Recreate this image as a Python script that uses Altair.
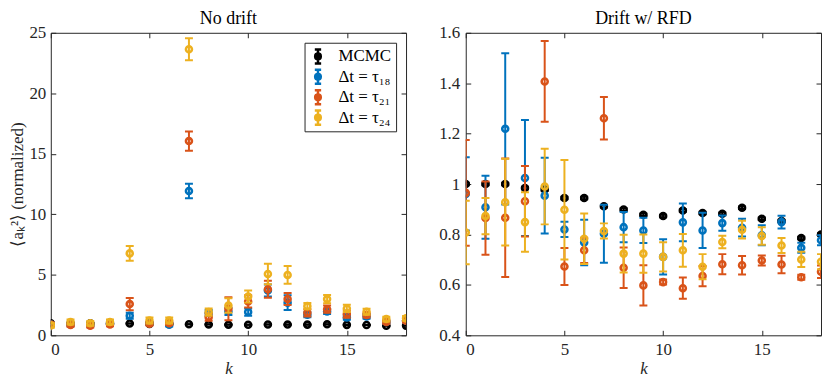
import altair as alt
import pandas as pd

# ---------------- data ----------------
k_values = list(range(19))
series_names = ["MCMC", "Δt = τ₁₈", "Δt = τ₂₁", "Δt = τ₂₄"]
series_colors = ["#000000", "#0072BD", "#D95319", "#EDB120"]

# MCMC reference (same in both panels)
mcmc_val = [1.0, 1.0, 1.0, 0.984, 0.978, 0.945, 0.945, 0.912, 0.899, 0.878,
            0.873, 0.895, 0.885, 0.882, 0.906, 0.862, 0.853, 0.786, 0.80]
mcmc_err = [0.005, 0.005, 0.005, 0.005, 0.005, 0.005, 0.005, 0.005, 0.005, 0.005,
            0.005, 0.005, 0.005, 0.005, 0.005, 0.005, 0.005, 0.005, 0.005]

# No drift panel
nd_t18 = [0.9, 0.9, 0.85, 0.95, 1.62, 1.0, 0.88, 11.92, 1.84, 1.97,
          1.92, 3.7, 2.7, 1.7, 1.97, 1.48, 1.56, 1.1, 1.2]
nd_t18_err = [0.1, 0.1, 0.1, 0.1, 0.25, 0.1, 0.15, 0.6, 0.25, 0.3,
              0.3, 0.5, 0.6, 0.2, 0.2, 0.2, 0.2, 0.1, 0.15]
nd_t21 = [0.9, 0.85, 0.8, 0.9, 2.58, 0.95, 1.0, 16.05, 1.5, 2.2,
          2.8, 3.8, 3.0, 1.86, 2.16, 1.75, 1.67, 1.1, 1.2]
nd_t21_err = [0.15, 0.15, 0.15, 0.15, 0.5, 0.15, 0.15, 0.8, 0.3, 0.95,
              0.5, 0.7, 0.5, 0.3, 0.3, 0.3, 0.2, 0.15, 0.15]
nd_t24 = [0.82, 1.1, 0.99, 1.1, 6.77, 1.23, 1.23, 23.64, 1.92, 2.47,
          3.2, 5.07, 4.99, 2.41, 2.99, 2.22, 1.95, 1.34, 1.4]
nd_t24_err = [0.2, 0.2, 0.2, 0.2, 0.6, 0.25, 0.25, 0.9, 0.3, 0.6,
              0.5, 0.85, 0.73, 0.25, 0.35, 0.3, 0.25, 0.2, 0.2]

# Drift w/ RFD panel
rfd_t18 = [0.961, 0.908, 1.219, 1.024, 0.954, 0.82, 0.768, 0.803, 0.829, 0.816,
           0.711, 0.848, 0.816, 0.845, 0.827, 0.797, 0.849, 0.747, 0.777]
rfd_t18_err = [0.145, 0.125, 0.30, 0.23, 0.15, 0.03, 0.09, 0.115, 0.06, 0.05,
               0.07, 0.075, 0.07, 0.03, 0.035, 0.04, 0.025, 0.02, 0.02]
rfd_t21 = [0.965, 0.865, 0.866, 0.932, 1.407, 0.673, 0.737, 1.261, 0.668, 0.598,
           0.611, 0.587, 0.635, 0.682, 0.678, 0.697, 0.681, 0.630, 0.652]
rfd_t21_err = [0.21, 0.145, 0.235, 0.14, 0.16, 0.073, 0.05, 0.084, 0.08, 0.08,
               0.01, 0.042, 0.04, 0.04, 0.037, 0.02, 0.035, 0.01, 0.025]
rfd_t24 = [0.808, 0.873, 0.928, 0.849, 0.990, 0.898, 0.783, 0.814, 0.724, 0.724,
           0.711, 0.737, 0.672, 0.770, 0.819, 0.794, 0.756, 0.701, 0.692]
rfd_t24_err = [0.126, 0.072, 0.172, 0.118, 0.15, 0.197, 0.1, 0.03, 0.075, 0.076,
               0.058, 0.065, 0.05, 0.025, 0.035, 0.035, 0.03, 0.03, 0.03]

x_ticks = [0, 5, 10, 15]
nd_y_ticks = [0, 5, 10, 15, 20, 25]
rfd_y_ticks = [0.4, 0.6, 0.8, 1.0, 1.2, 1.4, 1.6]

FONT = "Liberation Serif"
AXIS_COLOR = "#262626"
PANEL_W = 357
PANEL_H = 304


def make_df(vals_errs):
    rows = []
    for name, (vals, errs) in zip(series_names, vals_errs):
        for kk, v, e in zip(k_values, vals, errs):
            rows.append({"k": kk, "series": name, "val": v, "lo": v - e, "hi": v + e})
    return pd.DataFrame(rows)


nd_df = make_df([(mcmc_val, mcmc_err), (nd_t18, nd_t18_err),
                 (nd_t21, nd_t21_err), (nd_t24, nd_t24_err)])
rfd_df = make_df([(mcmc_val, mcmc_err), (rfd_t18, rfd_t18_err),
                  (rfd_t21, rfd_t21_err), (rfd_t24, rfd_t24_err)])

legend_symbol = ("M0,-1L0,1M-0.45,-1L0.45,-1M-0.45,1L0.45,1"
                 "M0.4,0A0.4,0.4,0,1,1,-0.4,0A0.4,0.4,0,1,1,0.4,0")


def tick_axis(values, orient):
    return alt.Axis(values=values, labels=False, domain=False, grid=False,
                    tickSize=5, offset=-5, title=None, orient=orient,
                    minExtent=0, maxExtent=0)


def panel(df, title, ydomain, yticks, ytitle, yfmt, with_legend):
    xs = alt.Scale(domain=[0, 18], nice=False, zero=False)
    ys = alt.Scale(domain=ydomain, nice=False, zero=False)
    cscale = alt.Scale(domain=series_names, range=series_colors)

    main_x = alt.Axis(values=x_ticks, ticks=False, domain=False, grid=False,
                      labelPadding=6, title="k", titleFontStyle="italic",
                      titlePadding=3, minExtent=0)
    main_y = alt.Axis(values=yticks, ticks=False, domain=False, grid=False,
                      labelPadding=5 if ytitle else 6, format=yfmt,
                      title=ytitle, titlePadding=2, minExtent=0)
    axis_sets = [(main_x, main_y),
                 (tick_axis(x_ticks, "bottom"), tick_axis(yticks, "left")),
                 (tick_axis(x_ticks, "top"), tick_axis(yticks, "right"))]

    if with_legend:
        leg = alt.Legend(
            title=None, orient="top-right", offset=10,
            strokeColor=AXIS_COLOR, fillColor="white", padding=5,
            symbolType=legend_symbol, symbolSize=200, symbolStrokeWidth=2.5,
            symbolFillColor="transparent", labelFont=FONT, labelFontSize=17,
            labelColor="black", rowPadding=1.5, labelOffset=12,
            labelLimit=200, clipHeight=17.5,
        )
    else:
        leg = None
    color = alt.Color("series:N", scale=cscale, legend=leg)

    layers = []
    idx = 0

    def axes():
        nonlocal idx
        ax = axis_sets[idx] if idx < len(axis_sets) else (None, None)
        idx += 1
        return ax

    for name in series_names:
        base = alt.Chart(df).transform_filter(alt.datum.series == name)

        ax_x, ax_y = axes()
        rule = base.mark_rule(strokeWidth=2, clip=True).encode(
            x=alt.X("k:Q", scale=xs, axis=ax_x),
            y=alt.Y("lo:Q", scale=ys, axis=ax_y),
            y2="hi:Q",
            color=color,
        )
        ax_x, ax_y = axes()
        caps = base.transform_fold(["lo", "hi"], as_=["end", "yv"]).mark_tick(
            orient="horizontal", size=8, thickness=2, clip=True, opacity=1
        ).encode(
            x=alt.X("k:Q", scale=xs, axis=ax_x),
            y=alt.Y("yv:Q", scale=ys, axis=ax_y),
            color=color,
        )
        ax_x, ax_y = axes()
        pts = base.mark_point(filled=False, size=36, strokeWidth=2.6,
                              opacity=1, clip=True).encode(
            x=alt.X("k:Q", scale=xs, axis=ax_x),
            y=alt.Y("val:Q", scale=ys, axis=ax_y),
            color=color,
        )
        layers += [rule, caps, pts]

    return alt.layer(*layers).resolve_axis(x="independent", y="independent").properties(
        width=PANEL_W, height=PANEL_H,
        title=alt.TitleParams(title, font=FONT, fontSize=18, fontWeight="normal",
                              color="black", offset=-4),
    )


left = panel(nd_df, "No drift", [0, 25], nd_y_ticks,
             "⟨aₖ²⟩ (normalized)", "d", True)
right = panel(rfd_df, "Drift w/ RFD", [0.4, 1.6], rfd_y_ticks,
              None, ".1~f", False)

chart = alt.hconcat(left, right, spacing=31).resolve_scale(
    color="independent"
).properties(
    padding={"left": 0, "top": 0, "right": 0, "bottom": 0}
).configure_view(
    stroke=AXIS_COLOR, strokeWidth=1
).configure_axis(
    labelFont=FONT, labelFontSize=17, labelColor=AXIS_COLOR,
    titleFont=FONT, titleFontSize=17, titleColor=AXIS_COLOR,
    titleFontWeight="normal", tickColor=AXIS_COLOR, tickWidth=1,
).configure_title(anchor="middle")

chart.save("out.html", embed_options={"renderer": "svg", "actions": False})
